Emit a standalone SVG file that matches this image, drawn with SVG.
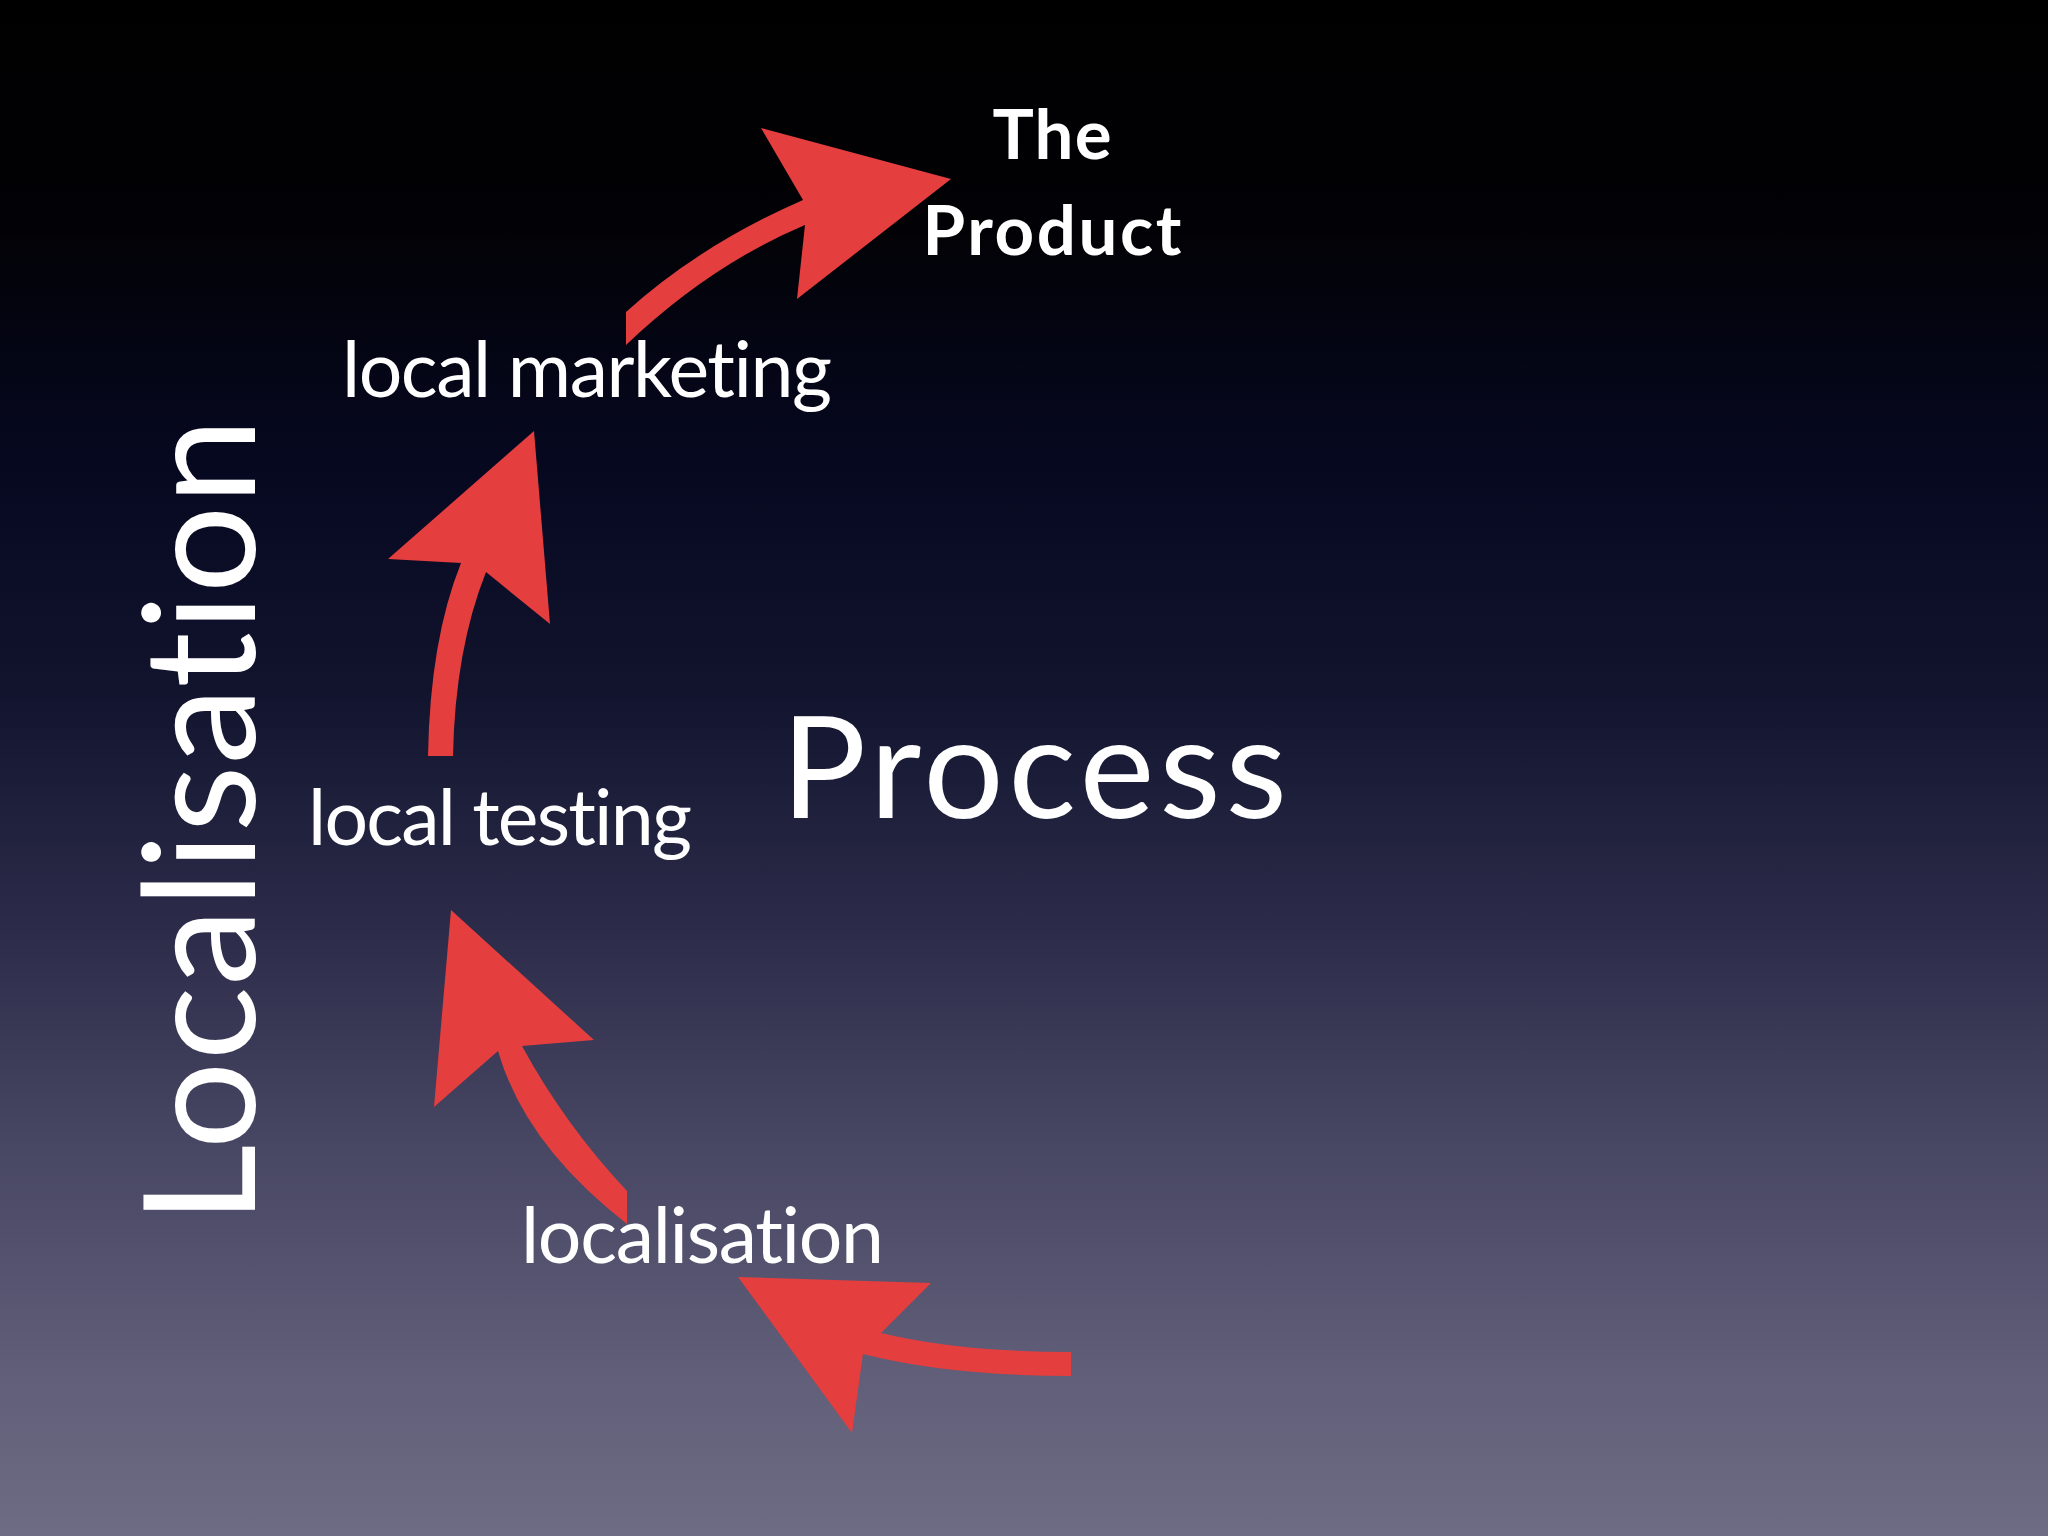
<svg xmlns="http://www.w3.org/2000/svg" width="2048" height="1536" viewBox="0 0 2048 1536">
  <defs>
    <linearGradient id="bg" x1="0" y1="0" x2="0" y2="1">
      <stop offset="0" stop-color="#000000"/>
      <stop offset="0.15" stop-color="#020206"/>
      <stop offset="0.3" stop-color="#060820"/>
      <stop offset="0.45" stop-color="#12142e"/>
      <stop offset="0.6" stop-color="#2b2b49"/>
      <stop offset="0.75" stop-color="#484764"/>
      <stop offset="0.9" stop-color="#615f79"/>
      <stop offset="1" stop-color="#6e6c84"/>
    </linearGradient>
    <style>
      .lbl { font-family: Lato, "Liberation Sans", sans-serif; fill: #ffffff; font-variant-ligatures: none; font-feature-settings: "liga" 0, "dlig" 0; }
      .arrow { fill: #e43e3f; }
    </style>
  </defs>
  <rect x="0" y="0" width="2048" height="1536" fill="url(#bg)"/>

  <g id="connectors">
    <path class="arrow" d="M1071,1352 Q960,1352 881,1333 L931,1283 L738,1277 L852,1433 L863,1354 Q950,1376 1071,1376 Z"/>
    <path class="arrow" d="M627,1191 Q565,1125 522,1046 L594,1040 L451,910 L434,1107 L498,1051 Q525,1145 627,1224 Z"/>
    <path class="arrow" d="M428,756 Q430,640 461,563 L388,559 L534,431 L550,624 L486,572 Q455,650 453,756 Z"/>
    <path class="arrow" d="M626,312 Q700,245 803,200 L761,128 L951,179 L797,299 L805,225 Q710,265 626,345 Z"/>
  </g>

  <g id="node-product">
    <text class="lbl" x="1052" y="159" font-size="69" font-weight="bold" text-anchor="middle" textLength="119" lengthAdjust="spacing">The</text>
    <text class="lbl" x="1052" y="255" font-size="69" font-weight="bold" text-anchor="middle" textLength="259" lengthAdjust="spacing">Product</text>
  </g>
  <g id="node-local-marketing">
    <text class="lbl" x="342" y="397" font-size="77" textLength="490" lengthAdjust="spacing">local marketing</text>
  </g>
  <g id="node-local-testing">
    <text class="lbl" x="308" y="845" font-size="77" textLength="384" lengthAdjust="spacing">local testing</text>
  </g>
  <g id="node-localisation">
    <text class="lbl" x="521" y="1263" font-size="77" textLength="363" lengthAdjust="spacing">localisation</text>
  </g>
  <g id="node-process">
    <text class="lbl" x="781" y="818" font-size="142" textLength="506" lengthAdjust="spacing">Process</text>
  </g>
  <g id="node-title">
    <text class="lbl" transform="translate(255,1224) rotate(-90)" x="0" y="0" font-size="155" textLength="806" lengthAdjust="spacing">Localisation</text>
  </g>
</svg>
